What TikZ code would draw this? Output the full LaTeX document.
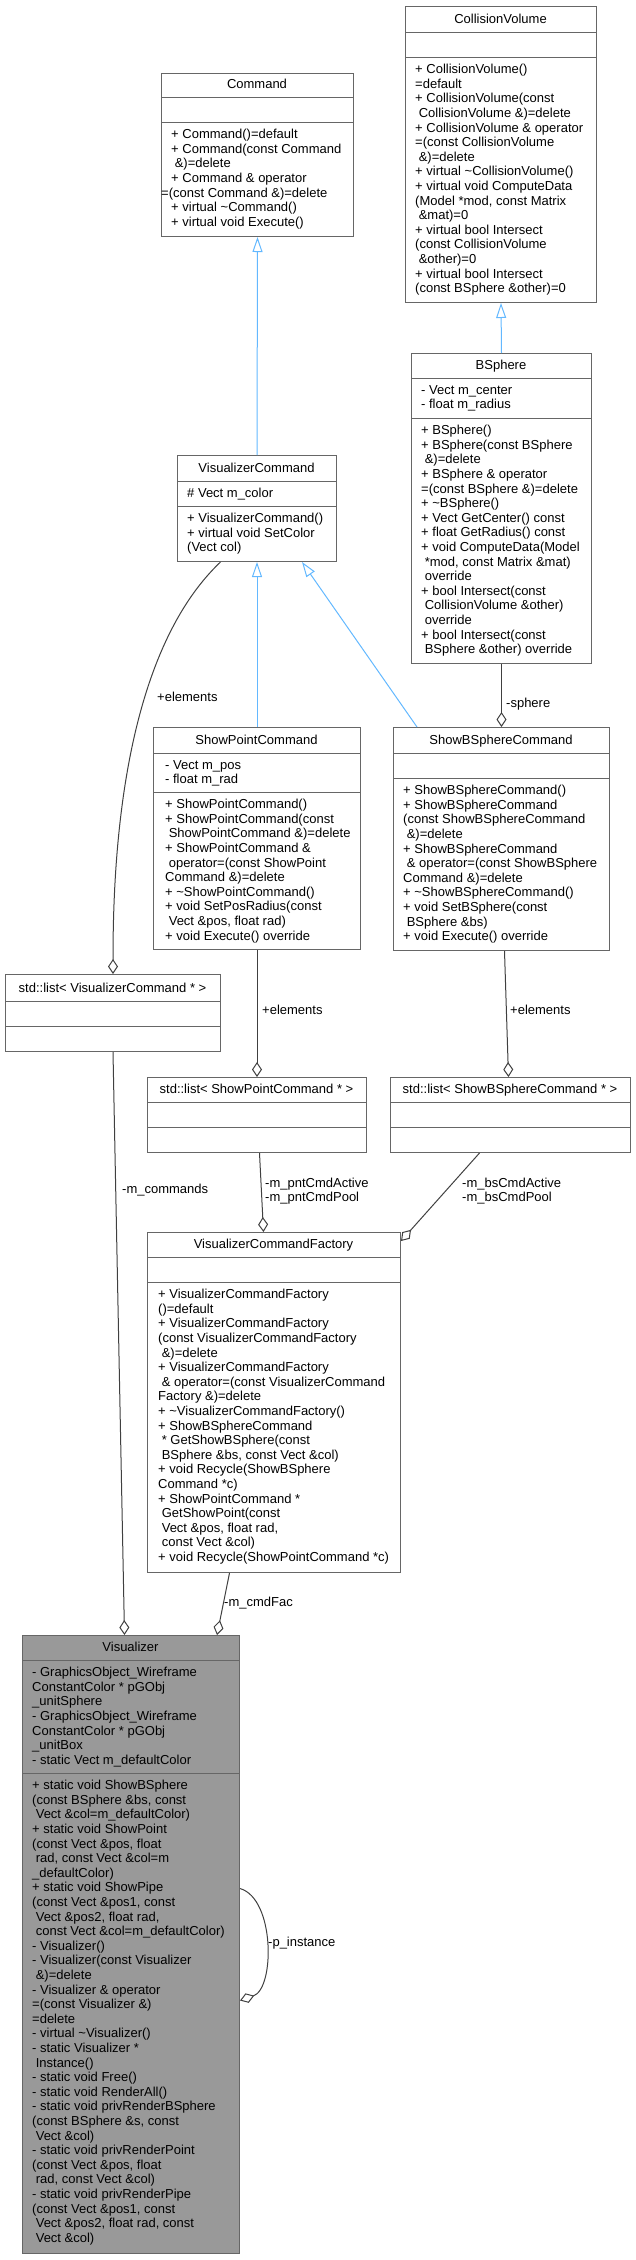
\documentclass[tikz,border=0pt]{standalone}
\usepackage{fontspec}
\setmainfont{Liberation Sans}
\usetikzlibrary{arrows.meta}

\definecolor{boxgray}{HTML}{666666}
\definecolor{edgegray}{HTML}{404040}
\definecolor{inhblue}{HTML}{63B8FF}
\definecolor{rootfill}{HTML}{999999}

\newcommand{\ind}{\hspace*{3.6pt}}
\newcommand{\tld}{\textasciitilde}

\tikzset{
  cls/.style={draw=boxgray, line width=1pt, fill=white, inner sep=0pt, anchor=north west},
  sepline/.style={draw=boxgray, line width=1pt},
  hd/.style={anchor=base, inner sep=0pt, font=\fontsize{13}{14.6}\selectfont},
  mb/.style={anchor=north west, align=left, inner sep=0pt, font=\fontsize{13}{14.6}\selectfont},
  lbl/.style={anchor=west, inner sep=0pt, align=left, font=\fontsize{13}{14.6}\selectfont},
  inh/.style={draw=inhblue, line width=1pt, -{Triangle[open, length=15pt, width=10pt]}},
  agg/.style={draw=edgegray, line width=1pt, -{Diamond[open, length=15pt, width=10pt]}}
}

\begin{document}
\begin{tikzpicture}[x=1pt,y=-1pt]
\useasboundingbox (0,0) rectangle (635,2260);

% Command
\node[cls, minimum width=192, minimum height=163] (cmd) at (161,73) {};
\draw[sepline] (161,97) -- (353,97) (161,122) -- (353,122);
\node[hd] (cmdH) at (257,88) {Command};
\node[mb] (cmdM) at (171,129) {+ Command()=default\\+ Command(const Command\\\ind\&)=delete\\+ Command \& operator\\\hspace*{-10pt}=(const Command \&)=delete\\+ virtual \tld Command()\\+ virtual void Execute()};

% CollisionVolume
\node[cls, minimum width=191, minimum height=296] (cvol) at (405,6) {};
\draw[sepline] (405,32) -- (596,32) (405,57) -- (596,57);
\node[hd] (cvolH) at (500.5,23) {CollisionVolume};
\node[mb] (cvolM) at (415,64) {+ CollisionVolume()\\=default\\+ CollisionVolume(const\\\ind CollisionVolume \&)=delete\\+ CollisionVolume \& operator\\=(const CollisionVolume\\\ind\&)=delete\\+ virtual \tld CollisionVolume()\\+ virtual void ComputeData\\(Model *mod, const Matrix\\\ind\&mat)=0\\+ virtual bool Intersect\\(const CollisionVolume\\\ind\&other)=0\\+ virtual bool Intersect\\(const BSphere \&other)=0};

% BSphere
\node[cls, minimum width=180, minimum height=310] (bsph) at (411,353) {};
\draw[sepline] (411,378) -- (591,378) (411,418) -- (591,418);
\node[hd] (bsphH) at (501,369) {BSphere};
\node[mb] (bsphA) at (421,385) {- Vect m\_center\\- float m\_radius};
\node[mb] (bsphM) at (421,425) {+ BSphere()\\+ BSphere(const BSphere\\\ind\&)=delete\\+ BSphere \& operator\\=(const BSphere \&)=delete\\+ \tld BSphere()\\+ Vect GetCenter() const\\+ float GetRadius() const\\+ void ComputeData(Model\\\ind*mod, const Matrix \&mat)\\\ind override\\+ bool Intersect(const\\\ind CollisionVolume \&other)\\\ind override\\+ bool Intersect(const\\\ind BSphere \&other) override};

% VisualizerCommand
\node[cls, minimum width=159, minimum height=106] (vcmd) at (177,455) {};
\draw[sepline] (177,481) -- (336,481) (177,506) -- (336,506);
\node[hd] (vcmdH) at (256.5,472) {VisualizerCommand};
\node[mb] (vcmdA) at (187,488) {\# Vect m\_color};
\node[mb] (vcmdM) at (187,513) {+ VisualizerCommand()\\+ virtual void SetColor\\(Vect col)};

% ShowPointCommand
\node[cls, minimum width=207, minimum height=222] (spc) at (153,727) {};
\draw[sepline] (153,753) -- (360,753) (153,792) -- (360,792);
\node[hd] (spcH) at (256.5,744) {ShowPointCommand};
\node[mb] (spcA) at (165,760) {- Vect m\_pos\\- float m\_rad};
\node[mb] (spcM) at (165,799) {+ ShowPointCommand()\\+ ShowPointCommand(const\\\ind ShowPointCommand \&)=delete\\+ ShowPointCommand \&\\\ind operator=(const ShowPoint\\Command \&)=delete\\+ \tld ShowPointCommand()\\+ void SetPosRadius(const\\\ind Vect \&pos, float rad)\\+ void Execute() override};

% ShowBSphereCommand
\node[cls, minimum width=216, minimum height=223] (sbs) at (393,727) {};
\draw[sepline] (393,753) -- (609,753) (393,778) -- (609,778);
\node[hd] (sbsH) at (501,744) {ShowBSphereCommand};
\node[mb] (sbsM) at (403,785) {+ ShowBSphereCommand()\\+ ShowBSphereCommand\\(const ShowBSphereCommand\\\ind\&)=delete\\+ ShowBSphereCommand\\\ind\& operator=(const ShowBSphere\\Command \&)=delete\\+ \tld ShowBSphereCommand()\\+ void SetBSphere(const\\\ind BSphere \&bs)\\+ void Execute() override};

% std::list< VisualizerCommand * >
\node[cls, minimum width=215, minimum height=77] (lvc) at (5,974) {};
\draw[sepline] (5,1001) -- (220,1001) (5,1026) -- (220,1026);
\node[hd] (lvcH) at (112.5,992) {std::list< VisualizerCommand * >};

% std::list< ShowPointCommand * >
\node[cls, minimum width=219, minimum height=75] (lsp) at (147,1077) {};
\draw[sepline] (147,1102) -- (366,1102) (147,1127) -- (366,1127);
\node[hd] (lspH) at (256.5,1093) {std::list< ShowPointCommand * >};

% std::list< ShowBSphereCommand * >
\node[cls, minimum width=240, minimum height=75] (lsb) at (390,1077) {};
\draw[sepline] (390,1102) -- (630,1102) (390,1127) -- (630,1127);
\node[hd] (lsbH) at (510,1093) {std::list< ShowBSphereCommand * >};

% VisualizerCommandFactory
\node[cls, minimum width=253, minimum height=340] (fac) at (147,1232) {};
\draw[sepline] (147,1257) -- (400,1257) (147,1282) -- (400,1282);
\node[hd] (facH) at (273.5,1248) {VisualizerCommandFactory};
\node[mb] (facM) at (158,1289) {+ VisualizerCommandFactory\\()=default\\+ VisualizerCommandFactory\\(const VisualizerCommandFactory\\\ind\&)=delete\\+ VisualizerCommandFactory\\\ind\& operator=(const VisualizerCommand\\Factory \&)=delete\\+ \tld VisualizerCommandFactory()\\+ ShowBSphereCommand\\\ind* GetShowBSphere(const\\\ind BSphere \&bs, const Vect \&col)\\+ void Recycle(ShowBSphere\\Command *c)\\+ ShowPointCommand *\\\ind GetShowPoint(const\\\ind Vect \&pos, float rad,\\\ind const Vect \&col)\\+ void Recycle(ShowPointCommand *c)};

% Visualizer
\node[cls, fill=rootfill, minimum width=217, minimum height=618] (vis) at (22,1635) {};
\draw[sepline] (22,1660) -- (239,1660) (22,1773) -- (239,1773);
\node[hd] (visH) at (130.5,1651) {Visualizer};
\node[mb] (visA) at (32,1667) {- GraphicsObject\_Wireframe\\ConstantColor * pGObj\\\_unitSphere\\- GraphicsObject\_Wireframe\\ConstantColor * pGObj\\\_unitBox\\- static Vect m\_defaultColor};
\node[mb] (visM) at (32,1780) {+ static void ShowBSphere\\(const BSphere \&bs, const\\\ind Vect \&col=m\_defaultColor)\\+ static void ShowPoint\\(const Vect \&pos, float\\\ind rad, const Vect \&col=m\\\_defaultColor)\\+ static void ShowPipe\\(const Vect \&pos1, const\\\ind Vect \&pos2, float rad,\\\ind const Vect \&col=m\_defaultColor)\\- Visualizer()\\- Visualizer(const Visualizer\\\ind\&)=delete\\- Visualizer \& operator\\=(const Visualizer \&)\\=delete\\- virtual \tld Visualizer()\\- static Visualizer *\\\ind Instance()\\- static void Free()\\- static void RenderAll()\\- static void privRenderBSphere\\(const BSphere \&s, const\\\ind Vect \&col)\\- static void privRenderPoint\\(const Vect \&pos, float\\\ind rad, const Vect \&col)\\- static void privRenderPipe\\(const Vect \&pos1, const\\\ind Vect \&pos2, float rad, const\\\ind Vect \&col)};

% inheritance
\draw[inh] (vcmd.north) -- (cmd.south);
\draw[inh] (bsph.north) -- (cvol.south);
\draw[inh] (spc.north) -- (vcmd.south);
\draw[inh] ([xshift=24pt]sbs.north west) -- ([xshift=45pt]vcmd.south);

% usage
\draw[agg] (bsph.south) -- (sbs.north);
\node[lbl] (lSphere) at (506,704) {-sphere};
\draw[agg] ([xshift=-36.5pt]vcmd.south) .. controls +(-100,95) and +(0,-110) .. (lvc.north);
\node[lbl] (lElemA) at (157,697) {+elements};
\draw[agg] (spc.south) -- (lsp.north);
\node[lbl] (lElemB) at (262,1010) {+elements};
\draw[agg] ([xshift=3pt]sbs.south) -- ([xshift=-2pt]lsb.north);
\node[lbl] (lElemC) at (510,1010) {+elements};
\draw[agg] (lvc.south) -- ([xshift=-6.5pt]vis.north);
\node[lbl] (lCmds) at (122,1190) {-m\_commands};
\draw[agg] ([xshift=2.5pt]lsp.south) -- ([xshift=-10.5pt]fac.north);
\node[lbl] (lPnt) at (265,1191) {-m\_pntCmdActive\\-m\_pntCmdPool};
\draw[agg] ([xshift=-31pt]lsb.south) -- ([yshift=-9pt]fac.north east);
\node[lbl] (lBs) at (462,1191) {-m\_bsCmdActive\\-m\_bsCmdPool};
\draw[agg] ([xshift=-44.5pt]fac.south) -- ([xshift=86pt]vis.north);
\node[lbl] (lFac) at (224,1603) {-m\_cmdFac};
\draw[agg] ([yshift=56pt]vis.east) .. controls +(35,10) and +(35,-12) .. ([yshift=-56pt]vis.east);
\node[lbl] (lInst) at (268,1943) {-p\_instance};
\end{tikzpicture}
\end{document}
